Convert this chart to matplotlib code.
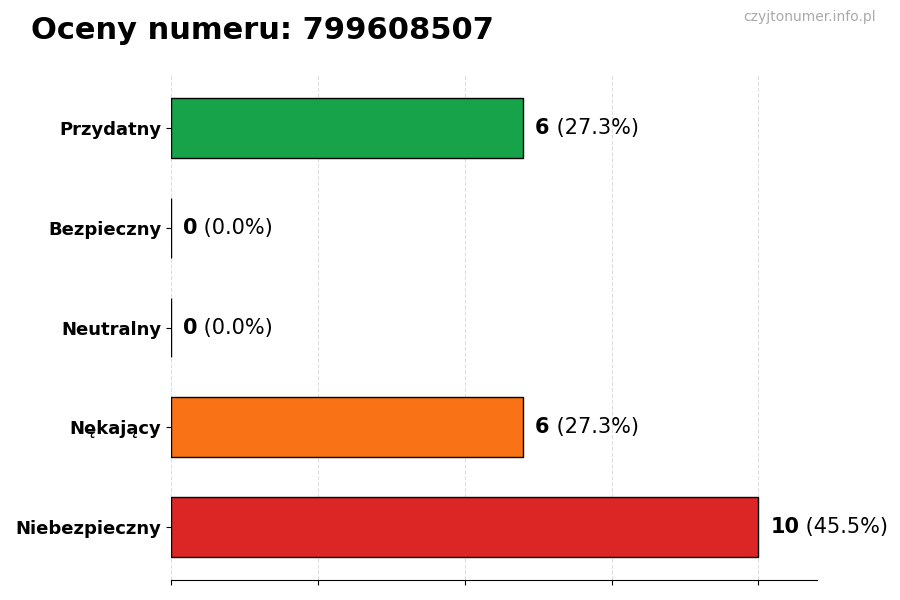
import numpy as np
import matplotlib.pyplot as plt

categories = ['Przydatny', 'Bezpieczny', 'Neutralny', 'Nękający', 'Niebezpieczny']
counts = [6, 0, 0, 6, 10]
colors = ['#16a34a', '#6b7280', '#3b82f6', '#f97316', '#dc2626']
phone = '799608507'

total = sum(counts)
y = np.arange(len(categories))[::-1]

fig, ax = plt.subplots(figsize=(9, 6), dpi=100)
fig.subplots_adjust(left=0.19, right=0.908, bottom=0.0333, top=0.875)

ax.barh(y, counts, height=0.6, color=colors, edgecolor='black', linewidth=1, zorder=2)
ax.grid(axis='x', linestyle='--', color='#d0d0d0', alpha=0.7, zorder=3)

ax.set_yticks(y)
ax.set_yticklabels(categories, fontsize=13, fontweight='bold')
ax.set_xlim(0, 11)
ax.set_xticks([0, 2.5, 5, 7.5, 10])
ax.set_xticklabels([])

for side in ['top', 'right', 'left']:
    ax.spines[side].set_visible(False)

# value labels: bold count + normal percentage
for yi, c in zip(y, counts):
    pct = c / total * 100 if total else 0
    t1 = ax.text(c + 0.2, yi, str(c), fontsize=15, fontweight='bold', va='center', ha='left')
    ax.annotate(f' ({pct:.1f}%)', xy=(1, 0.5), xycoords=t1, va='center', ha='left', fontsize=15)

fig.text(0.034, 0.925, f'Oceny numeru: {phone}', fontsize=22, fontweight='bold', ha='left', va='bottom')
fig.text(0.973, 0.96, 'czyjtonumer.info.pl', fontsize=10, color='#aaaaaa', ha='right', va='bottom')

fig.savefig('out.png', dpi=100)
